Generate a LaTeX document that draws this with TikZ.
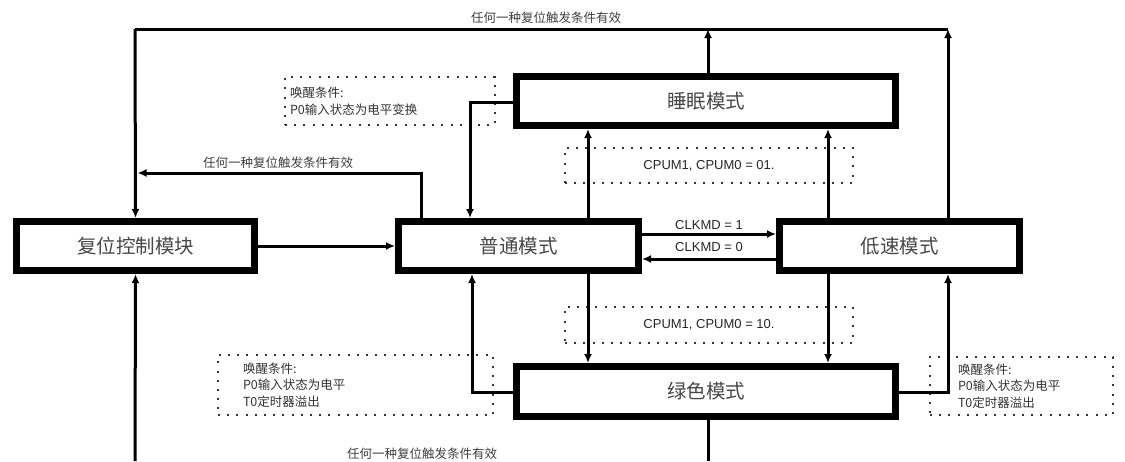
\documentclass[tikz,border=0pt]{standalone}
\usepackage{fontspec}
\setmainfont{Liberation Sans}
\newfontfamily\cjk{Noto Sans CJK SC}
\usetikzlibrary{arrows.meta}
\begin{document}
\begin{tikzpicture}[x=1pt,y=-1pt,
  mode/.style={draw, line width=7pt, fill=white, inner sep=0pt,
    font=\cjk\fontsize{19.5}{22}\selectfont, text=black!72},
  conn/.style={line width=3pt},
  arr/.style={conn, -{Latex[length=9pt,width=8pt]}},
  dotbox/.style={draw=black!80, line width=2pt, dash pattern=on 2pt off 7.2pt,
    inner sep=0pt, text=black!80},
  wake/.style={dotbox, align=left, font=\cjk\fontsize{12.5}{16.5}\selectfont},
  cpum/.style={dotbox, font=\fontsize{13}{15}\selectfont, text=black!85},
  lbl/.style={inner sep=0pt, font=\cjk\fontsize{12.5}{14}\selectfont, text=black!75},
  clk/.style={inner sep=0pt, font=\fontsize{13}{15}\selectfont, text=black!85}]
\useasboundingbox (0,0) rectangle (1125,461);
\fill[white] (0,0) rectangle (1125,461);

% mode boxes
\node[mode, minimum width=238, minimum height=49] (reset) at (135.5,246) {复位控制模块};
\node[mode, minimum width=240, minimum height=49] (normal) at (518.5,246) {普通模式};
\node[mode, minimum width=240, minimum height=49] (low) at (899.5,246) {低速模式};
\node[mode, minimum width=379, minimum height=49] (sleep) at (706,101) {睡眠模式};
\node[mode, minimum width=379, minimum height=50] (green) at (706,391.5) {绿色模式};

% dotted condition boxes
\node[wake, minimum width=210, minimum height=48, text width=200] (w1) at (390,101)
  {唤醒条件:\\P0输入状态为电平变换};
\node[wake, minimum width=275, minimum height=60, text width=225] (w2) at (355.5,385)
  {唤醒条件:\\P0输入状态为电平\\T0定时器溢出};
\node[wake, minimum width=183, minimum height=58, text width=127] (w3) at (1021.5,386)
  {唤醒条件:\\P0输入状态为电平\\T0定时器溢出};
\node[cpum, minimum width=288, minimum height=35] (c1) at (709,165.5) {CPUM1, CPUM0 = 01.};
\node[cpum, minimum width=288, minimum height=36] (c2) at (709,325) {CPUM1, CPUM0 = 10.};

% helper coordinates
\coordinate (tl) at (135,29);
\coordinate (tm) at (708,29);
\coordinate (tr) at (948,29);
\coordinate (nu) at (421,173);
\coordinate (ml) at (137.5,173);
\coordinate (sl) at (470,102);
\coordinate (gl) at (472,392);
\coordinate (gr) at (948,392);
\coordinate (xa) at (588,0);
\coordinate (xb) at (828,0);
\coordinate (k1) at (0,234);
\coordinate (k2) at (0,259);
\coordinate (bl) at (135,461);
\coordinate (br) at (708,461);

% top reset bus
\draw[conn] (tl) -- (tr);
\draw[arr] (tl) -- (reset.north);
\draw[arr] (sleep.north -| tm) -- (tm);
\draw[arr] (low.north -| tr) -- (tr);
\node[lbl] (t1) at (546,18) {任何一种复位触发条件有效};

% normal -> reset
\draw[arr] (normal.north -| nu) -- (nu) -- (ml);
\node[lbl] (t2) at (278,163) {任何一种复位触发条件有效};

% reset -> normal
\draw[arr] (reset.east) -- (normal.west);

% sleep -> normal
\draw[arr] (sleep.west |- sl) -- (sl) -- (normal.north -| sl);

% normal/low -> sleep
\draw[arr] (normal.north -| xa) -- (sleep.south -| xa);
\draw[arr] (low.north -| xb) -- (sleep.south -| xb);

% CLKMD
\draw[arr] (normal.east |- k1) -- (low.west |- k1);
\draw[arr] (low.west |- k2) -- (normal.east |- k2);
\node[clk] (k1l) at (709,225) {CLKMD = 1};
\node[clk] (k2l) at (709,247.5) {CLKMD = 0};

% normal/low -> green
\draw[arr] (normal.south -| xa) -- (green.north -| xa);
\draw[arr] (low.south -| xb) -- (green.north -| xb);

% green -> normal, green -> low
\draw[arr] (green.west |- gl) -- (gl) -- (normal.south -| gl);
\draw[arr] (green.east |- gr) -- (gr) -- (low.south -| gr);

% bottom bus
\draw[arr] (bl) -- (reset.south);
\draw[conn] (green.south -| br) -- (br);
\node[lbl] (t3) at (422,454) {任何一种复位触发条件有效};
\end{tikzpicture}
\end{document}
